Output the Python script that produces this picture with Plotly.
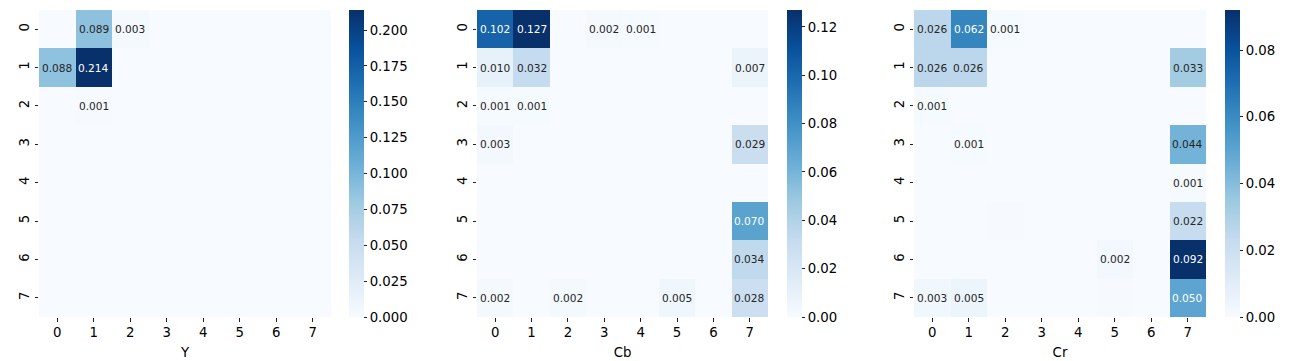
import plotly.graph_objects as go
import plotly.colors as pc

# blocks indices
rows = [0, 1, 2, 3, 4, 5, 6, 7]
cols = [0, 1, 2, 3, 4, 5, 6, 7]

y_vals = [
    [0, 0.089, 0.003, 0, 0, 0, 0, 0],
    [0.088, 0.214, 0, 0, 0, 0, 0, 0],
    [0, 0.001, 0, 0, 0, 0, 0, 0],
    [0, 0, 0, 0, 0, 0, 0, 0],
    [0, 0, 0, 0, 0, 0, 0, 0],
    [0, 0, 0, 0, 0, 0, 0, 0],
    [0, 0, 0, 0, 0, 0, 0, 0],
    [0, 0, 0, 0, 0, 0, 0, 0],
]
cb_vals = [
    [0.102, 0.127, 0, 0.002, 0.001, 0, 0, 0],
    [0.010, 0.032, 0, 0, 0, 0, 0, 0.007],
    [0.001, 0.001, 0, 0, 0, 0, 0, 0],
    [0.003, 0, 0, 0, 0, 0, 0, 0.029],
    [0, 0, 0, 0, 0, 0, 0, 0],
    [0, 0, 0, 0, 0, 0, 0, 0.070],
    [0, 0, 0, 0, 0, 0, 0, 0.034],
    [0.002, 0, 0.002, 0, 0, 0.005, 0, 0.028],
]
cr_vals = [
    [0.026, 0.062, 0.001, 0, 0, 0, 0, 0],
    [0.026, 0.026, 0, 0, 0, 0, 0, 0.033],
    [0.001, 0, 0, 0, 0, 0, 0, 0],
    [0, 0.001, 0, 0, 0, 0, 0, 0.044],
    [0, 0, 0, 0, 0, 0, 0, 0.001],
    [0, 0, 0.0004, 0, 0, 0, 0, 0.022],
    [0, 0, 0, 0, 0, 0.002, 0, 0.092],
    [0.003, 0.005, 0, 0, 0, 0.0004, 0, 0.050],
]

panels = [
    ("Y", y_vals, 0.025, ".3f"),
    ("Cb", cb_vals, 0.02, ".2f"),
    ("Cr", cr_vals, 0.02, ".2f"),
]

W, H = 1292, 361
ML, MR, MT, MB = 39, 86, 10, 44
PW, PH = W - ML - MR, H - MT - MB
# pixel boxes: heatmap left/right, colorbar left
boxes = [(39, 331, 349), (477, 768, 787), (914, 1206, 1225)]
font = "DejaVu Sans, sans-serif"


def fx(px):
    return (px - ML) / PW


def lum(rgb):
    r, g, b = [c / 255 for c in rgb]
    f = lambda c: c / 12.92 if c <= 0.03928 else ((c + 0.055) / 1.055) ** 2.4
    return 0.2126 * f(r) + 0.7152 * f(g) + 0.0722 * f(b)


fig = go.Figure()
annots = []
for i, (name, z, dt, fmt) in enumerate(panels):
    xl, xr, cbl = boxes[i]
    xa = "x" if i == 0 else f"x{i+1}"
    ya = "y" if i == 0 else f"y{i+1}"
    zmax = max(max(r) for r in z)
    fig.add_trace(go.Heatmap(
        z=z, x=cols, y=rows, xaxis=xa, yaxis=ya,
        colorscale="Blues", zmin=0, zmax=zmax,
        hoverinfo="skip",
        colorbar=dict(
            x=fx(cbl), xanchor="left", xref="paper",
            y=0.5, yanchor="middle",
            len=1, lenmode="fraction",
            thickness=15, thicknessmode="pixels", outlinewidth=0,
            xpad=0, ypad=0,
            ticks="outside", ticklen=3.5, tickwidth=1, tickcolor="#222",
            dtick=dt, tick0=0, tickformat=fmt,
            tickfont=dict(family=font, size=13.3, color="black"),
        ),
    ))
    key = "" if i == 0 else str(i + 1)
    fig.layout["xaxis" + key] = dict(
        domain=[fx(xl), fx(xr)], anchor=ya, range=[-0.5, 7.5],
        tickvals=cols, ticks="outside", ticklen=3.5, tickcolor="#222",
        showgrid=False, zeroline=False, showline=False,
        tickfont=dict(family=font, size=13.3, color="black"),
        title=dict(text=name, font=dict(family=font, size=13.3, color="black"), standoff=8),
    )
    fig.layout["yaxis" + key] = dict(
        domain=[0, 1], anchor=xa, range=[7.5, -0.5],
        tickvals=rows, ticks="outside", ticklen=3.5, tickcolor="#222",
        tickangle=-90, showgrid=False, zeroline=False, showline=False,
        tickfont=dict(family=font, size=13.3, color="black"),
    )
    for r in rows:
        for c in cols:
            v = z[r][c]
            s = f"{v:.3f}"
            if s == "0.000":
                continue
            rgb = pc.unlabel_rgb(pc.sample_colorscale("Blues", [v / zmax])[0])
            col = "#262626" if lum(rgb) > 0.408 else "white"
            annots.append(dict(
                x=c, y=r, xref=xa, yref=ya, text=s, showarrow=False,
                font=dict(family=font, size=10.6, color=col),
            ))

fig.update_layout(
    width=W, height=H, margin=dict(l=ML, r=MR, t=MT, b=MB, autoexpand=False),
    plot_bgcolor="white", paper_bgcolor="white",
    annotations=annots,
)
# page body has a default 8px margin
fig.write_html("out.html", config={"displayModeBar": False},
               post_script="document.body.style.margin='0px';")
